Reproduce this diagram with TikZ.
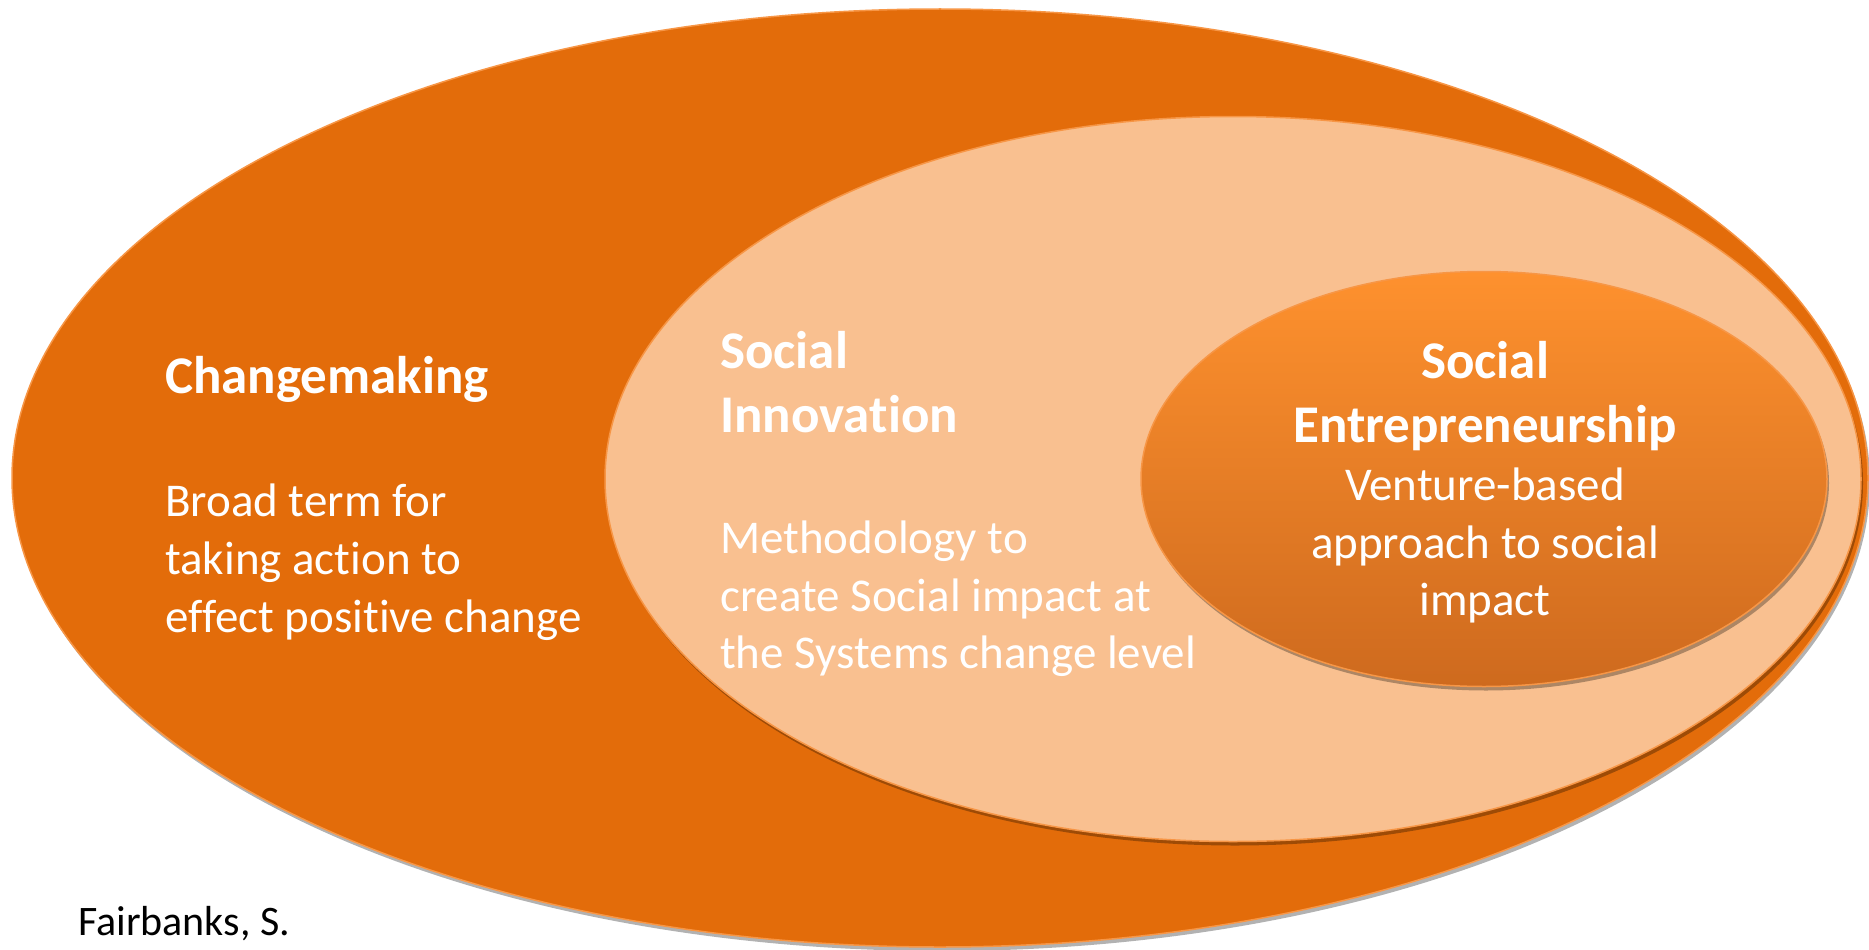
\documentclass[tikz,border=0pt]{standalone}
\usepackage{fontspec}
\setmainfont{Carlito}[Ligatures=NoCommon]
\usepackage{tikz}
\usetikzlibrary{shapes.geometric,shadows}

\definecolor{deepOrange}{RGB}{227,108,10}
\definecolor{edgeOrange}{RGB}{247,150,70}
\definecolor{paleOrange}{RGB}{249,192,144}
\definecolor{seTop}{RGB}{254,145,46}
\definecolor{seBottom}{RGB}{206,106,30}

\tikzset{
  ring/.style={ellipse, inner sep=0pt, draw=edgeOrange, line width=1.5pt},
  ringshadow/.style={drop shadow={shadow xshift=2pt, shadow yshift=-4pt, opacity=0.3, fill=black}},
  txt/.style={text=white, inner sep=0pt, anchor=base west},
  head/.style={txt, font=\bfseries\fontsize{53}{64}\selectfont},
  body/.style={txt, font=\fontsize{47}{57}\selectfont}
}

\begin{document}
\begin{tikzpicture}[x=1pt,y=-1pt]
				\path[use as bounding box, fill=white] (0,0) rectangle (1869,950);
				
				% Ellipses
				\node[ring, ringshadow, fill=deepOrange, minimum width=1856pt, minimum height=938pt] (outer) at (940,478) {};
				\node[ring, ringshadow, fill=paleOrange, minimum width=1256pt, minimum height=725pt] (middle) at (1233,479) {};
				\node[ring, ringshadow, top color=seTop, bottom color=seBottom, minimum width=686pt, minimum height=415pt] (inner) at (1484,479) {};
				
				% Changemaking
				\node[head] (cmHead) at (165,393) {Changemaking};
				\node[body] (cmA) at (165,516) {Broad term for};
				\node[body] (cmB) at (165,574) {taking action to};
				\node[body] (cmC) at (165,632) {effect positive change};
				
				% Social Innovation
				\node[head] (siHeadA) at (720,368) {Social};
				\node[head] (siHeadB) at (720,432) {Innovation};
				\node[body] (siA) at (720,553) {Methodology to};
				\node[body] (siB) at (720,611) {create Social impact at};
				\node[body] (siC) at (720,668) {the Systems change level};
				
				% Social Entrepreneurship
				\node[head, anchor=base] (seHeadA) at (1485,378) {Social};
				\node[head, anchor=base] (seHeadB) at (1485,442) {Entrepreneurship};
				\node[body, anchor=base] (seA) at (1485,500) {Venture-based};
				\node[body, anchor=base] (seB) at (1485,558) {approach to social};
				\node[body, anchor=base] (seC) at (1485,615) {impact};
				
				% Source
				\node[txt, text=black, font=\fontsize{42}{50}\selectfont] (source) at (78,935) {Fairbanks, S.};
			\end{tikzpicture}
\end{document}
